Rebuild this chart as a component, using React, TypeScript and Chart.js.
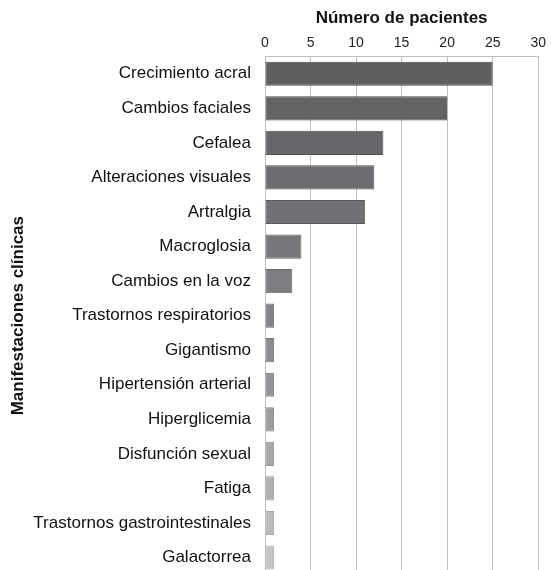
import React, { useEffect, useRef } from "react";
import { Chart, registerables } from "chart.js";

Chart.register(...registerables);

const categories = [
  "Crecimiento acral",
  "Cambios faciales",
  "Cefalea",
  "Alteraciones visuales",
  "Artralgia",
  "Macroglosia",
  "Cambios en la voz",
  "Trastornos respiratorios",
  "Gigantismo",
  "Hipertensión arterial",
  "Hiperglicemia",
  "Disfunción sexual",
  "Fatiga",
  "Trastornos gastrointestinales",
  "Galactorrea",
];

const patients = [25, 20, 13, 12, 11, 4, 3, 1, 1, 1, 1, 1, 1, 1, 1];

const barColors = [
  "#5e5f61", "#626365", "#66676a", "#6b6c6f", "#707174",
  "#76777a", "#7c7d80", "#838487", "#8b8c8f", "#939497",
  "#9c9d9f", "#a6a7a9", "#b0b1b3", "#babbbd", "#c4c5c7",
];

const xTitle = "Número de pacientes";
const yTitle = "Manifestaciones clínicas";

function shade(hex: string, amt: number): string {
  const n = parseInt(hex.slice(1), 16);
  let r = (n >> 16) & 255, g = (n >> 8) & 255, b = n & 255;
  const f = (c: number) => Math.max(0, Math.min(255, Math.round(c + amt)));
  return `rgb(${f(r)},${f(g)},${f(b)})`;
}

export default function App() {
  const ref = useRef<HTMLCanvasElement | null>(null);

  useEffect(() => {
    if (!ref.current) return;
    const chart = new Chart(ref.current, {
      type: "bar",
      data: {
        labels: categories,
        datasets: [
          {
            data: patients,
            backgroundColor: (ctx: any) => {
              const c = barColors[ctx.dataIndex] || "#888";
              const el = ctx.chart.getDatasetMeta(0).data[ctx.dataIndex] as any;
              if (!el || el.y === undefined || !el.height) return c;
              const g = ctx.chart.ctx.createLinearGradient(0, el.y - el.height / 2, 0, el.y + el.height / 2);
              g.addColorStop(0, shade(c, 45));
              g.addColorStop(0.18, shade(c, 12));
              g.addColorStop(0.8, c);
              g.addColorStop(1, shade(c, -25));
              return g;
            },
            borderColor: barColors.map((c) => shade(c, -22)),
            borderWidth: 1,
            borderSkipped: false,
            categoryPercentage: 1,
            barPercentage: 0.7,
          },
        ],
      },
      options: {
        indexAxis: "y",
        animation: false,
        responsive: false,
        maintainAspectRatio: false,
        layout: { padding: { top: 0, right: 12, bottom: 5, left: 0 } },
        plugins: {
          legend: { display: false },
          tooltip: { enabled: false },
        },
        scales: {
          x: {
            position: "top",
            min: 0,
            max: 30,
            ticks: {
              stepSize: 5,
              color: "#222",
              padding: 5,
              font: { family: "Liberation Sans", size: 14 },
            },
            grid: { color: "#bfbfbf", drawTicks: false, lineWidth: 1 },
            border: { display: true, color: "#bfbfbf" },
            title: {
              display: true,
              text: xTitle,
              color: "#111",
              font: { family: "Liberation Sans", size: 17, weight: "bold" },
              padding: { top: 8, bottom: 2 },
            },
            afterFit: (s: any) => {
              s.height = 56.5;
            },
          },
          y: {
            ticks: {
              color: "#111",
              padding: 14,
              font: { family: "Liberation Sans", size: 17 },
            },
            grid: { display: false, drawTicks: false },
            border: { display: true, color: "#bfbfbf" },
            title: {
              display: true,
              text: yTitle,
              color: "#111",
              font: { family: "Liberation Sans", size: 17, weight: "bold" },
              padding: { top: 8, bottom: 0 },
            },
            afterFit: (s: any) => {
              s.width = 265;
            },
          },
        },
      },
    });
    return () => chart.destroy();
  }, []);

  return (
    <div
      style={{
        position: "fixed",
        top: 0,
        left: 0,
        width: 551,
        height: 570,
        overflow: "hidden",
        background: "#fff",
      }}
    >
      <canvas ref={ref} width={551} height={599} style={{ display: "block", width: 551, height: 599 }} />
    </div>
  );
}
